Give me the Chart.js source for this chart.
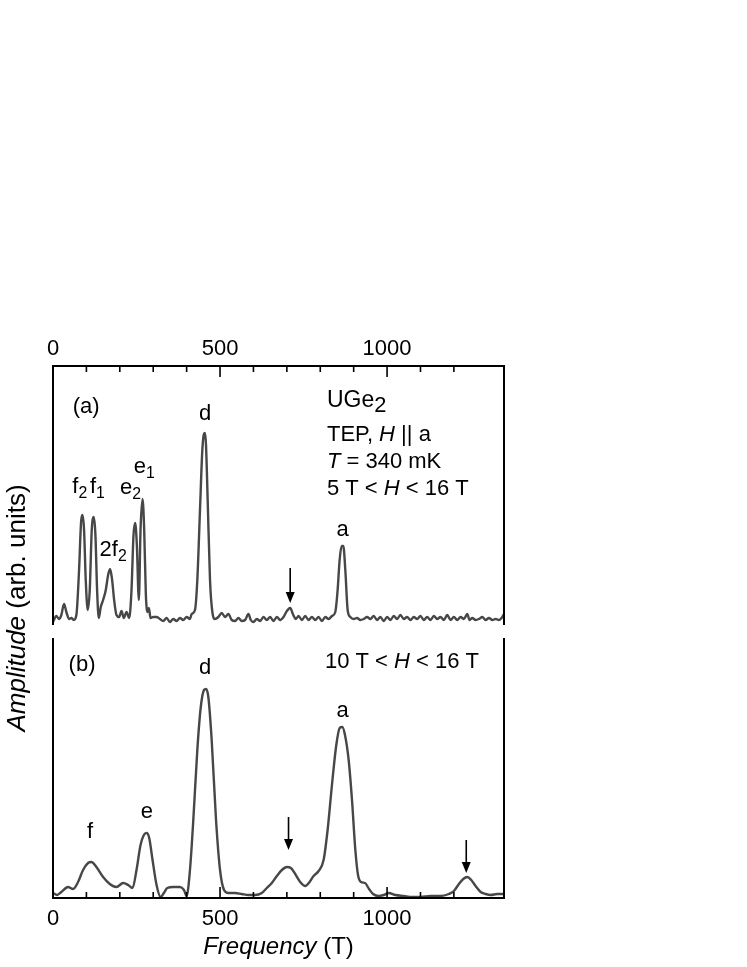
<!DOCTYPE html>
<html>
<head>
<meta charset="utf-8">
<script src="https://cdn.jsdelivr.net/npm/chart.js@4.4.1/dist/chart.umd.min.js"></script>
<style>
  html, body { margin: 0; padding: 0; background: #fff; }
  #wrap { position: relative; width: 747px; height: 967px; }
  #wrap canvas { position: absolute; left: 0; top: 0; }
</style>
</head>
<body>
<div id="wrap">
  <canvas id="panelA" width="747" height="967"></canvas>
  <canvas id="panelB" width="747" height="967"></canvas>
</div>
<script>
// --- data (frequency in T, amplitude in arb. units) ---
const freqA = [0, 10, 18, 25, 33, 40, 48, 55, 62, 70, 78, 84, 88, 93, 98, 104, 110, 116, 122, 127,
  132, 137, 143, 150, 158, 165, 171, 177, 183, 190, 198, 205, 212, 220, 228, 235, 241, 246, 251, 257,
  262, 268, 273, 278, 283, 287, 292, 300, 310, 320, 330, 340, 350, 360, 370, 380, 390, 400, 410, 415,
  425, 432, 440, 447, 452, 455, 458, 463, 470, 477, 485, 495, 505, 515, 525, 535, 545, 555, 565, 575,
  585, 592, 600, 610, 620, 630, 640, 650, 660, 670, 680, 690, 700, 710, 718, 727, 735, 745, 755, 765,
  775, 785, 795, 805, 815, 825, 835, 845, 852, 858, 864, 869, 875, 882, 890, 900, 910, 920, 930, 940,
  950, 960, 970, 980, 990, 1000, 1010, 1020, 1030, 1040, 1050, 1060, 1070, 1080, 1090, 1100, 1110, 1120,
  1130, 1140, 1150, 1160, 1170, 1180, 1190, 1200, 1210, 1220, 1230, 1240, 1247, 1255, 1265, 1275, 1285,
  1295, 1305, 1315, 1325, 1335, 1345, 1350];
const ampA = [3, 9, 6, 10, 21, 13, 6, 7, 5, 10, 55, 103, 110, 95, 45, 15, 35, 95, 108, 90,
  35, 7, 18, 25, 35, 50, 56, 45, 25, 10, 8, 14, 7, 13, 7, 35, 90, 102, 80, 25,
  95, 126, 95, 30, 13, 17, 7, 8, 8, 6, 4, 7, 3, 6, 4, 7, 5, 8, 6, 11,
  15, 45, 115, 175, 191, 192, 180, 125, 45, 13, 6, 8, 12, 8, 11, 5, 4, 7, 4, 5,
  11, 5, 3, 6, 4, 8, 5, 8, 4, 8, 5, 8, 14, 17, 11, 6, 9, 5, 9, 5,
  8, 5, 8, 4, 8, 6, 9, 13, 35, 65, 79, 79, 55, 15, 8, 6, 7, 5, 6, 8,
  6, 9, 5, 8, 4, 8, 5, 9, 6, 10, 6, 8, 5, 8, 6, 9, 5, 8,
  5, 9, 6, 8, 5, 10, 5, 8, 5, 8, 6, 11, 5, 7, 5, 6, 8,
  5, 7, 5, 6, 5, 8, 11];

const freqB = [0, 12, 25, 45, 60, 75, 90, 105, 115, 130, 150, 170, 190, 210, 225, 238, 250, 262, 272, 280,
  288, 298, 310, 322, 332, 342, 360, 380, 392, 400, 410, 420, 432, 442, 452, 458, 465, 475, 488, 500,
  512, 525, 545, 565, 585, 605, 625, 640, 655, 670, 685, 700, 712, 725, 740, 755, 768, 780, 795, 810,
  822, 835, 848, 858, 866, 874, 885, 895, 905, 913, 922, 934, 946, 958, 975, 990, 1005, 1025, 1050, 1075,
  1100, 1130, 1160, 1185, 1200, 1215, 1228, 1240, 1252, 1265, 1280, 1295, 1310, 1330, 1350];
const ampB = [5, 3, 6, 11, 9, 16, 28, 35, 36, 31, 21, 14, 11, 15, 13, 10, 28, 53, 63, 65,
  60, 38, 13, 1, 5, 10, 11, 11, 8, 2, 28, 78, 148, 190, 208, 209, 201, 158, 78, 28,
  8, 5, 5, 4, 3, 3, 5, 10, 15, 22, 28, 31, 30, 24, 16, 12, 16, 22, 27, 38,
  68, 113, 153, 170, 171, 163, 138, 98, 48, 23, 16, 15, 9, 4, 2, 3, 5, 3, 2, 1,
  1, 2, 2, 4, 7, 14, 19, 21, 18, 12, 6, 4, 3, 4, 4];

const freqTicks = [0, 500, 1000];
const arrowsA = [710];
const arrowsB = [705, 1237];

const FONT = "'Liberation Sans', Arial, sans-serif";
const LINE = '#474747';

// draw text made of plain / italic / subscript parts
function drawRich(ctx, parts, x, y, size, align) {
  const pieces = parts.map(p => {
    const s = p.sub ? size * (p.scale || 0.72) : size;
    const font = (p.i ? 'italic ' : '') + s + 'px ' + FONT;
    ctx.font = font;
    return { t: p.t, sub: p.sub, drop: p.drop, font, w: ctx.measureText(p.t).width };
  });
  const total = pieces.reduce((a, p) => a + p.w, 0);
  let cx = align === 'left' ? x : x - total / 2;
  ctx.textAlign = 'left';
  ctx.textBaseline = 'middle';
  ctx.fillStyle = '#000';
  pieces.forEach(p => {
    ctx.font = p.font;
    ctx.fillText(p.t, cx, y + (p.sub ? size * (p.drop || 0.3) : 0));
    cx += p.w;
  });
}

function drawArrow(ctx, x, yTop, yTip) {
  const head = 11, half = 4.5;
  ctx.save();
  ctx.strokeStyle = '#000';
  ctx.fillStyle = '#000';
  ctx.lineWidth = 1.6;
  ctx.beginPath();
  ctx.moveTo(x, yTop);
  ctx.lineTo(x, yTip - head + 1);
  ctx.stroke();
  ctx.beginPath();
  ctx.moveTo(x - half, yTip - head);
  ctx.lineTo(x + half, yTip - head);
  ctx.lineTo(x, yTip);
  ctx.closePath();
  ctx.fill();
  ctx.restore();
}

const overlay = {
  id: 'overlay',
  afterDraw(chart, args, opts) {
    const ctx = chart.ctx;
    const xs = chart.scales.x, ys = chart.scales.y;
    const { left, right, top, bottom } = chart.chartArea;
    ctx.save();
    // frame: open on the side that faces the other panel
    ctx.strokeStyle = '#000';
    ctx.lineWidth = 2;
    ctx.beginPath();
    if (opts.side === 'top') {
      ctx.moveTo(left, bottom); ctx.lineTo(left, top); ctx.lineTo(right, top); ctx.lineTo(right, bottom);
    } else {
      ctx.moveTo(left, top); ctx.lineTo(left, bottom); ctx.lineTo(right, bottom); ctx.lineTo(right, top);
    }
    ctx.stroke();
    // inward tick marks
    ctx.lineWidth = 1.6;
    const edge = opts.side === 'top' ? top : bottom;
    const dir = opts.side === 'top' ? 1 : -1;
    xs.ticks.forEach(t => {
      if (t.value % 100 !== 0 || t.value === 0) return;
      const len = t.value % 500 === 0 ? 11 : 6;
      const px = xs.getPixelForValue(t.value);
      ctx.beginPath();
      ctx.moveTo(px, edge);
      ctx.lineTo(px, edge + dir * len);
      ctx.stroke();
    });
    // labels
    (opts.labels || []).forEach(l => {
      drawRich(ctx, l.parts, xs.getPixelForValue(l.x), ys.getPixelForValue(l.y), l.size || 22, l.align);
    });
    (opts.arrows || []).forEach(a => {
      drawArrow(ctx, xs.getPixelForValue(a.x), ys.getPixelForValue(a.from), ys.getPixelForValue(a.to));
    });
    // axis titles
    if (opts.xTitle) {
      drawRich(ctx, [{ t: 'Frequency', i: true }, { t: ' (T)' }], (left + right) / 2, 947, 24);
    }
    if (opts.yTitle) {
      ctx.translate(18, 608);
      ctx.rotate(-Math.PI / 2);
      drawRich(ctx, [{ t: 'Amplitude', i: true }, { t: ' (arb. units)' }], 0, 0, 26);
    }
    ctx.restore();
  }
};

function makePanel(id, freq, amp, side, axisH, padding, yMax, extra) {
  return new Chart(document.getElementById(id), {
    type: 'line',
    data: {
      datasets: [{
        data: freq.map((f, i) => ({ x: f, y: amp[i] })),
        borderColor: LINE,
        borderWidth: 2.4,
        pointRadius: 0,
        cubicInterpolationMode: 'monotone',
        fill: false
      }]
    },
    options: {
      responsive: false,
      animation: false,
      devicePixelRatio: 1,
      layout: { padding },
      plugins: { legend: { display: false }, tooltip: { enabled: false }, overlay: Object.assign({ side }, extra) },
      scales: {
        x: {
          type: 'linear',
          position: side === 'top' ? 'top' : 'bottom',
          min: 0, max: 1350,
          border: { display: false },
          grid: { display: false, drawTicks: false, tickLength: 0 },
          ticks: {
            stepSize: 100,
            autoSkip: false,
            maxRotation: 0,
            padding: side === 'top' ? 4 : 8,
            color: '#000',
            font: { family: FONT, size: 22 },
            callback: v => freqTicks.includes(v) ? String(v) : ''
          },
          afterFit: s => { s.height = axisH; }
        },
        y: { display: false, min: 0, max: yMax }
      }
    },
    plugins: [overlay]
  });
}

makePanel('panelA', freqA, ampA, 'top', 26, { left: 53, right: 243, top: 340, bottom: 342 }, 259, {
  yTitle: true,
  labels: [
    { parts: [{ t: '(a)' }], x: 99, y: 218 },
    { parts: [{ t: 'd' }], x: 455, y: 211 },
    { parts: [{ t: 'f' }, { t: '2', sub: true }], x: 80, y: 138 },
    { parts: [{ t: 'f' }, { t: '1', sub: true }], x: 133, y: 138 },
    { parts: [{ t: '2f' }, { t: '2', sub: true }], x: 180, y: 75 },
    { parts: [{ t: 'e' }, { t: '2', sub: true }], x: 232, y: 137 },
    { parts: [{ t: 'e' }, { t: '1', sub: true }], x: 273, y: 158 },
    { parts: [{ t: 'a' }], x: 867, y: 95 },
    { parts: [{ t: 'UGe' }, { t: '2', sub: true, scale: 0.95, drop: 0.22 }], x: 820, y: 224, size: 23, align: 'left' },
    { parts: [{ t: 'TEP, ' }, { t: 'H', i: true }, { t: ' || a' }], x: 820, y: 190, align: 'left' },
    { parts: [{ t: 'T', i: true }, { t: ' = 340 mK' }], x: 820, y: 163, align: 'left' },
    { parts: [{ t: '5 T < ' }, { t: 'H', i: true }, { t: ' < 16 T' }], x: 820, y: 136, align: 'left' }
  ],
  arrows: arrowsA.map(x => ({ x, from: 57, to: 22 }))
});

makePanel('panelB', freqB, ampB, 'bottom', 40, { left: 53, right: 243, top: 638, bottom: 29 }, 260, {
  xTitle: true,
  labels: [
    { parts: [{ t: '(b)' }], x: 87, y: 233 },
    { parts: [{ t: 'd' }], x: 455, y: 230 },
    { parts: [{ t: 'e' }], x: 281, y: 86 },
    { parts: [{ t: 'f' }], x: 111, y: 66 },
    { parts: [{ t: 'a' }], x: 867, y: 187 },
    { parts: [{ t: '10 T < ' }, { t: 'H', i: true }, { t: ' < 16 T' }], x: 814, y: 236, align: 'left' }
  ],
  arrows: arrowsB.map(x => ({ x, from: x < 1000 ? 81 : 58, to: x < 1000 ? 48 : 25 }))
});
</script>
</body>
</html>
